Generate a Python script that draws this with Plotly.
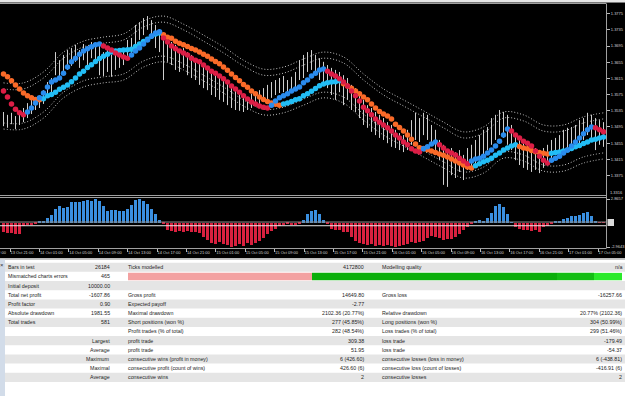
import plotly.graph_objects as go

W, H = 625, 396

# ---------------- data ----------------
fast_ma = [
    1.3584, 1.3569, 1.3552, 1.3539, 1.3530, 1.3525, 1.3532, 1.3542, 1.3554, 1.3567,
    1.3579, 1.3594, 1.3606, 1.3611, 1.3616, 1.3628, 1.3643, 1.3656, 1.3665, 1.3675,
    1.3683, 1.3688, 1.3693, 1.3698, 1.3700, 1.3695, 1.3690, 1.3685, 1.3678, 1.3673,
    1.3668, 1.3665, 1.3673, 1.3683, 1.3690, 1.3700, 1.3710, 1.3720, 1.3727, 1.3730,
    1.3715, 1.3705, 1.3695, 1.3688, 1.3683, 1.3678, 1.3673, 1.3665, 1.3660, 1.3656,
    1.3648, 1.3641, 1.3633, 1.3628, 1.3621, 1.3614, 1.3606, 1.3596, 1.3589, 1.3581,
    1.3572, 1.3564, 1.3557, 1.3552, 1.3547, 1.3544, 1.3542, 1.3549, 1.3559, 1.3567,
    1.3572, 1.3577, 1.3584, 1.3589, 1.3594, 1.3604, 1.3611, 1.3621, 1.3628, 1.3636,
    1.3638, 1.3633, 1.3626, 1.3621, 1.3614, 1.3606, 1.3596, 1.3584, 1.3572, 1.3559,
    1.3544, 1.3535, 1.3525, 1.3515, 1.3507, 1.3500, 1.3493, 1.3485, 1.3475, 1.3468,
    1.3458, 1.3451, 1.3441, 1.3436, 1.3433, 1.3441, 1.3446, 1.3453, 1.3458, 1.3451,
    1.3443, 1.3436, 1.3431, 1.3426, 1.3418, 1.3411, 1.3404, 1.3411, 1.3416, 1.3418,
    1.3423, 1.3431, 1.3438, 1.3448, 1.3460, 1.3475, 1.3490, 1.3485, 1.3475, 1.3468,
    1.3460, 1.3455, 1.3448, 1.3436, 1.3423, 1.3413, 1.3406, 1.3413, 1.3418, 1.3423,
    1.3431, 1.3438, 1.3448, 1.3458, 1.3468, 1.3478, 1.3488, 1.3495, 1.3493, 1.3488,
    1.3483,
]

slow_ma = [
    1.3626, 1.3619, 1.3609, 1.3599, 1.3589, 1.3579, 1.3572, 1.3567, 1.3563, 1.3562,
    1.3565, 1.3572, 1.3575, 1.3581, 1.3588, 1.3593, 1.3599, 1.3607, 1.3616, 1.3626,
    1.3633, 1.3642, 1.3649, 1.3657, 1.3664, 1.3670, 1.3675, 1.3680, 1.3683, 1.3684,
    1.3685, 1.3686, 1.3687, 1.3694, 1.3700, 1.3706, 1.3712, 1.3719, 1.3725, 1.3727,
    1.3723, 1.3717, 1.3714, 1.3707, 1.3702, 1.3698, 1.3694, 1.3689, 1.3685, 1.3680,
    1.3675, 1.3670, 1.3663, 1.3657, 1.3651, 1.3643, 1.3635, 1.3626, 1.3617, 1.3609,
    1.3600, 1.3593, 1.3584, 1.3577, 1.3569, 1.3563, 1.3558, 1.3554, 1.3551, 1.3549,
    1.3552, 1.3554, 1.3558, 1.3562, 1.3565, 1.3572, 1.3577, 1.3583, 1.3590, 1.3597,
    1.3601, 1.3604, 1.3606, 1.3607, 1.3609, 1.3602, 1.3596, 1.3591, 1.3584, 1.3577,
    1.3569, 1.3562, 1.3552, 1.3542, 1.3533, 1.3527, 1.3522, 1.3515, 1.3502, 1.3494,
    1.3485, 1.3475, 1.3465, 1.3453, 1.3444, 1.3442, 1.3439, 1.3436, 1.3432, 1.3428,
    1.3425, 1.3421, 1.3416, 1.3411, 1.3406, 1.3401, 1.3396, 1.3394, 1.3399, 1.3404,
    1.3409, 1.3413, 1.3418, 1.3425, 1.3431, 1.3438, 1.3443, 1.3448, 1.3451, 1.3447,
    1.3443, 1.3441, 1.3437, 1.3434, 1.3432, 1.3430, 1.3428, 1.3430, 1.3432, 1.3433,
    1.3436, 1.3438, 1.3442, 1.3446, 1.3449, 1.3454, 1.3458, 1.3463, 1.3465, 1.3468,
    1.3470,
]

bar_high = [
    1.3532, 1.3525, 1.3530, 1.3522, 1.3527, 1.3542, 1.3554, 1.3562, 1.3567, 1.3572,
    1.3586, 1.3606, 1.3616, 1.3680, 1.3660, 1.3673, 1.3685, 1.3690, 1.3698, 1.3685,
    1.3700, 1.3690, 1.3705, 1.3698, 1.3695, 1.3680, 1.3685, 1.3673, 1.3680, 1.3685,
    1.3690, 1.3710, 1.3715, 1.3747, 1.3754, 1.3764, 1.3769, 1.3759, 1.3747, 1.3735,
    1.3715, 1.3710, 1.3705, 1.3698, 1.3685, 1.3690, 1.3680, 1.3673, 1.3665, 1.3660,
    1.3648, 1.3641, 1.3631, 1.3623, 1.3616, 1.3611, 1.3604, 1.3599, 1.3591, 1.3581,
    1.3574, 1.3567, 1.3577, 1.3581, 1.3586, 1.3591, 1.3599, 1.3606, 1.3611, 1.3616,
    1.3621, 1.3611, 1.3619, 1.3631, 1.3660, 1.3673, 1.3680, 1.3685, 1.3673, 1.3665,
    1.3656, 1.3648, 1.3641, 1.3636, 1.3631, 1.3623, 1.3616, 1.3599, 1.3591, 1.3574,
    1.3562, 1.3549, 1.3542, 1.3532, 1.3525, 1.3517, 1.3507, 1.3500, 1.3488, 1.3480,
    1.3475, 1.3488, 1.3512, 1.3530, 1.3517, 1.3530, 1.3525, 1.3500, 1.3488, 1.3463,
    1.3451, 1.3438, 1.3443, 1.3433, 1.3438, 1.3426, 1.3443, 1.3451, 1.3463, 1.3475,
    1.3488, 1.3495, 1.3517, 1.3525, 1.3537, 1.3532, 1.3525, 1.3500, 1.3475, 1.3468,
    1.3463, 1.3455, 1.3451, 1.3443, 1.3438, 1.3443, 1.3451, 1.3463, 1.3468, 1.3475,
    1.3488, 1.3493, 1.3495, 1.3500, 1.3512, 1.3517, 1.3530, 1.3525, 1.3517, 1.3512,
    1.3507,
]

bar_low = [
    1.3497, 1.3493, 1.3502, 1.3490, 1.3500, 1.3507, 1.3517, 1.3527, 1.3537, 1.3542,
    1.3552, 1.3567, 1.3574, 1.3623, 1.3611, 1.3631, 1.3636, 1.3646, 1.3656, 1.3641,
    1.3660, 1.3636, 1.3665, 1.3653, 1.3623, 1.3621, 1.3631, 1.3619, 1.3636, 1.3641,
    1.3648, 1.3665, 1.3678, 1.3698, 1.3710, 1.3722, 1.3735, 1.3715, 1.3690, 1.3680,
    1.3611, 1.3656, 1.3648, 1.3636, 1.3631, 1.3641, 1.3623, 1.3616, 1.3611, 1.3599,
    1.3591, 1.3586, 1.3574, 1.3569, 1.3562, 1.3557, 1.3549, 1.3542, 1.3537, 1.3535,
    1.3532, 1.3537, 1.3542, 1.3547, 1.3552, 1.3557, 1.3562, 1.3567, 1.3574, 1.3579,
    1.3581, 1.3574, 1.3586, 1.3591, 1.3611, 1.3616, 1.3631, 1.3636, 1.3623, 1.3611,
    1.3599, 1.3591, 1.3574, 1.3562, 1.3581, 1.3549, 1.3562, 1.3537, 1.3532, 1.3517,
    1.3500, 1.3493, 1.3483, 1.3475, 1.3468, 1.3463, 1.3455, 1.3446, 1.3443, 1.3438,
    1.3433, 1.3438, 1.3451, 1.3463, 1.3458, 1.3475, 1.3463, 1.3451, 1.3438, 1.3413,
    1.3352, 1.3347, 1.3376, 1.3369, 1.3384, 1.3364, 1.3389, 1.3394, 1.3401, 1.3413,
    1.3418, 1.3438, 1.3451, 1.3463, 1.3475, 1.3468, 1.3451, 1.3438, 1.3413, 1.3401,
    1.3394, 1.3389, 1.3384, 1.3389, 1.3381, 1.3394, 1.3401, 1.3413, 1.3426, 1.3431,
    1.3438, 1.3443, 1.3451, 1.3443, 1.3451, 1.3463, 1.3475, 1.3468, 1.3438, 1.3451,
    1.3446,
]

osc_hist = [
    -1.2, -1.25, -1.3, -1.4, -1.35, -0.45, -0.35, -0.25, -0.1, 0.15,
    0.25, 0.5, 0.95, 1.6, 2.0, 1.75, 1.95, 2.45, 2.55, 2.55,
    2.65, 2.72, 2.65, 2.85, 2.6, 2.0, 1.35, 1.5, 1.58, 1.45,
    1.35, 1.7, 2.15, 2.7, 2.83, 2.65, 2.25, 1.6, 1.05, 0.3,
    -0.1, -0.9, -1.05, -1.1, -1.0, -1.1, -1.05, -1.15, -1.2, -1.3,
    -1.7, -2.1, -2.5, -2.55, -2.4, -2.6, -2.75, -2.93, -2.8, -2.65,
    -2.84, -2.5, -2.75, -2.45, -2.2, -1.9, -1.35, -1.05, -0.75, -0.45,
    -0.3, -0.2, -0.35, -0.3, -0.1, 0.3, 1.0, 1.45, 1.5, 1.0,
    0.3, -0.15, -0.8, -0.85, -0.95, -1.1, -1.2, -1.75, -2.2, -2.5,
    -2.6, -2.75, -2.65, -2.8, -2.7, -2.85, -2.75, -2.9, -2.95, -2.85,
    -2.7, -2.55, -2.4, -2.45, -2.3, -2.2, -1.9, -1.6, -1.7, -1.9,
    -2.1, -2.05, -1.95, -1.8, -1.4, -0.95, -0.5, -0.2, 0.2, 0.28,
    0.25, 0.5, 1.2, 2.0, 2.3, 1.9, 1.1, 0.05, -0.55, -0.75,
    -0.9, -0.85, -1.0, -0.95, -1.1, -0.55, -0.4, -0.1, 0.15, 0.25,
    0.4, 0.52, 0.8, 0.75, 0.9, 1.2, 1.3, 0.8, 0.2, -0.05,
    -0.05,
]

env_bars = [0, 5, 10, 15, 20, 25, 30, 35, 40, 45, 50, 55, 60, 65, 70, 75,
            80, 85, 90, 95, 100, 105, 110, 115, 120, 125, 130, 135, 140, 145, 150]
env_upper_outer = [1.3604, 1.3604, 1.3631, 1.3680, 1.3707, 1.3717, 1.3725, 1.3757, 1.3769, 1.3749,
                   1.3722, 1.3693, 1.3660, 1.3638, 1.3643, 1.3663, 1.3680, 1.3668, 1.3626, 1.3589,
                   1.3562, 1.3535, 1.3507, 1.3483, 1.3495, 1.3532, 1.3525, 1.3500, 1.3500, 1.3520, 1.3530]
env_upper_inner = [1.3589, 1.3589, 1.3616, 1.3665, 1.3693, 1.3702, 1.3710, 1.3742, 1.3754, 1.3735,
                   1.3707, 1.3678, 1.3646, 1.3623, 1.3628, 1.3648, 1.3665, 1.3653, 1.3611, 1.3574,
                   1.3547, 1.3520, 1.3493, 1.3468, 1.3480, 1.3517, 1.3510, 1.3485, 1.3485, 1.3505, 1.3515]
env_lower_inner = [1.3505, 1.3505, 1.3532, 1.3581, 1.3609, 1.3619, 1.3626, 1.3658, 1.3670, 1.3651,
                   1.3623, 1.3594, 1.3562, 1.3539, 1.3544, 1.3564, 1.3581, 1.3569, 1.3527, 1.3490,
                   1.3463, 1.3436, 1.3409, 1.3384, 1.3396, 1.3433, 1.3426, 1.3401, 1.3401, 1.3421, 1.3431]
env_lower_outer = [1.3490, 1.3490, 1.3517, 1.3567, 1.3594, 1.3604, 1.3611, 1.3643, 1.3656, 1.3636,
                   1.3609, 1.3579, 1.3547, 1.3525, 1.3530, 1.3549, 1.3567, 1.3554, 1.3512, 1.3475,
                   1.3448, 1.3421, 1.3394, 1.3369, 1.3381, 1.3418, 1.3411, 1.3386, 1.3386, 1.3406, 1.3416]

price_ticks = [1.3775, 1.3735, 1.3695, 1.3655, 1.3615, 1.3575, 1.3535, 1.3495, 1.3455, 1.3415, 1.3375]
price_min_label = "1.3316"
osc_ticks = [2.8657, -2.9643]
time_labels = ["13 Oct 17:00", "13 Oct 21:00", "14 Oct 01:00", "14 Oct 05:00", "14 Oct 09:00",
               "14 Oct 13:00", "14 Oct 17:00", "14 Oct 21:00", "15 Oct 01:00", "15 Oct 05:00",
               "15 Oct 09:00", "15 Oct 13:00", "15 Oct 17:00", "15 Oct 21:00", "16 Oct 01:00",
               "16 Oct 05:00", "16 Oct 09:00", "16 Oct 13:00", "16 Oct 17:00", "16 Oct 21:00",
               "17 Oct 01:00", "17 Oct 05:00"]

report_labels_1 = ["Bars in test", "Mismatched charts errors", "Initial deposit", "Total net profit",
                   "Profit factor", "Absolute drawdown", "Total trades", "", "", "", "", "", ""]
report_values_1 = ["26184", "465", "10000.00", "-1607.86", "0.90", "1981.55", "581", "",
                   "Largest", "Average", "Maximum", "Maximal", "Average"]
report_labels_2 = ["Ticks modelled", "", "", "Gross profit", "Expected payoff", "Maximal drawdown",
                   "Short positions (won %)", "Profit trades (% of total)", "profit trade", "profit trade",
                   "consecutive wins (profit in money)", "consecutive profit (count of wins)", "consecutive wins"]
report_values_2 = ["4172800", "", "", "14649.80", "-2.77", "2102.36 (20.77%)", "277 (45.85%)",
                   "282 (48.54%)", "309.38", "51.95", "6 (426.60)", "426.60 (6)", "2"]
report_labels_3 = ["Modelling quality", "", "", "Gross loss", "", "Relative drawdown",
                   "Long positions (won %)", "Loss trades (% of total)", "loss trade", "loss trade",
                   "consecutive losses (loss in money)", "consecutive loss (count of losses)", "consecutive losses"]
report_values_3 = ["n/a", "", "", "-16257.66", "", "20.77% (2102.36)", "304 (50.99%)", "299 (51.46%)",
                   "-179.49", "-54.37", "6 (-438.81)", "-416.91 (6)", "2"]

# ---------------- styling / layout geometry ----------------
FAST_UP, FAST_DN = "#2A8CEE", "#DC1E46"
SLOW_UP, SLOW_DN = "#22BDF5", "#FA6A28"
HIST_UP, HIST_DN = "#3A8FE0", "#D8213F"
AXIS_TXT = "#D4D4D4"
FRAME = "#A0A0A0"
TABLE_FONT = "Liberation Sans"

N = len(fast_ma)
bars = list(range(N))
PLOT_R = 606  # right edge of chart area in px


def px_x(x):
    return x / W


def px_y(y):
    return 1 - y / H


def px_to_bar(px):
    return (px - 3.5) / 4.0


X_RANGE = [px_to_bar(0), px_to_bar(PLOT_R)]
PRICE_RANGE = [1.33270, 1.38013]   # window extent (px 195 .. px 3)
OSC_RANGE = [-3.086, 3.230]        # window extent (px 248 .. px 196)


def trend_colors(vals, up, dn):
    out = []
    for i in range(len(vals)):
        rising = vals[1] > vals[0] if i == 0 else vals[i] > vals[i - 1]
        out.append(up if rising else dn)
    return out


fig = go.Figure()

# price bars (high-low lines)
bx, by = [], []
for i, (h, l) in enumerate(zip(bar_high, bar_low)):
    bx += [i, i, None]
    by += [l, h, None]
fig.add_trace(go.Scatter(x=bx, y=by, mode="lines", line=dict(color="#CFCFCF", width=1),
                         xaxis="x", yaxis="y", hoverinfo="skip"))

# envelope dotted lines
for env in (env_upper_outer, env_upper_inner, env_lower_inner, env_lower_outer):
    fig.add_trace(go.Scatter(x=env_bars, y=env, mode="lines",
                             line=dict(color="#C4C4C4", width=1, dash="1px,2px", shape="spline", smoothing=1.0),
                             xaxis="x", yaxis="y", hoverinfo="skip"))

# slow and fast MA dots
fig.add_trace(go.Scatter(x=bars, y=slow_ma, mode="markers",
                         marker=dict(size=5.5, color=trend_colors(slow_ma, SLOW_UP, SLOW_DN), line=dict(width=0)),
                         xaxis="x", yaxis="y", hoverinfo="skip"))
fig.add_trace(go.Scatter(x=bars, y=fast_ma, mode="markers",
                         marker=dict(size=5.5, color=trend_colors(fast_ma, FAST_UP, FAST_DN), line=dict(width=0)),
                         xaxis="x", yaxis="y", hoverinfo="skip"))

# oscillator histogram
fig.add_trace(go.Bar(x=bars, y=osc_hist, width=0.6,
                     marker=dict(color=[HIST_UP if v >= 0 else HIST_DN for v in osc_hist], line=dict(width=0)),
                     xaxis="x2", yaxis="y2", hoverinfo="skip"))

# time axis ticks
label_step = 29.4
tick_px = [10 + label_step * (k - 1) for k in range(len(time_labels))]
vis = [(px_to_bar(p), t) for p, t in zip(tick_px, time_labels) if 0 <= p <= PLOT_R]

shapes = []


def rect(x0, y0, x1, y1, fill, layer="below", line_color=None, lw=0):
    shapes.append(dict(type="rect", xref="paper", yref="paper",
                       x0=px_x(x0), x1=px_x(x1), y0=px_y(y1), y1=px_y(y0),
                       fillcolor=fill, layer=layer,
                       line=dict(width=lw, color=line_color or "rgba(0,0,0,0)")))


def hline(x0, x1, y, color, lw=1, layer="above"):
    shapes.append(dict(type="line", xref="paper", yref="paper", x0=px_x(x0), x1=px_x(x1),
                       y0=px_y(y), y1=px_y(y), line=dict(color=color, width=lw), layer=layer))


def vline(x, y0, y1, color, lw=1, layer="above"):
    shapes.append(dict(type="line", xref="paper", yref="paper", x0=px_x(x), x1=px_x(x),
                       y0=px_y(y0), y1=px_y(y1), line=dict(color=color, width=lw), layer=layer))


# black terminal area + top strip
rect(0, 0, 625, 2.5, "#E6E6E6")
rect(0, 2.5, 625, 258.5, "#000000")
# frames
hline(0, PLOT_R, 3.5, FRAME)
hline(0, PLOT_R, 195.5, FRAME)
hline(0, PLOT_R, 197.5, FRAME)
hline(0, PLOT_R, 248.5, FRAME)
vline(PLOT_R + 0.5, 3.5, 248.5, FRAME)
# oscillator level lines
shapes.append(dict(type="line", xref="paper", yref="y2", x0=0, x1=px_x(PLOT_R), y0=0.07, y1=0.07,
                   line=dict(color="#8E8E8E", width=1), layer="above"))
shapes.append(dict(type="line", xref="paper", yref="y2", x0=0, x1=px_x(PLOT_R), y0=-0.38, y1=-0.38,
                   line=dict(color="#E6E6E6", width=1), layer="above"))
rect(607.5, 219, 614, 226, "#DADADA", layer="above")

# report table
rect(0, 258.5, 625, 396, "#FFFFFF")
hline(0, 625, 259.5, "#C8C8C8", layer="below")
ROW_TOP, ROW_H = 262.7, 9.17
for k in range(13):
    if k % 2 == 0:
        rect(5, ROW_TOP + ROW_H * k, 625, ROW_TOP + ROW_H * (k + 1), "#E5E5E5")
# modelling quality bar
mq_y0, mq_y1 = ROW_TOP + ROW_H + 1.0, ROW_TOP + 2 * ROW_H - 0.8
rect(128, mq_y0, 312, mq_y1, "#F3A1A1")
rect(312, mq_y0, 557, mq_y1, "#0BAF0B")
rect(557, mq_y0, 594, mq_y1, "#14BE14")
rect(594, mq_y0, 622, mq_y1, "#2AEA2A")
rect(0, 259.5, 5, 396, "#D2DCE9")

annotations = []


def txt(px, py, s, anchor, size=5.3, color="#1E1E1E", family=TABLE_FONT):
    if not s:
        return
    annotations.append(dict(x=px_x(px), y=px_y(py), xref="paper", yref="paper", text=s,
                            showarrow=False, xanchor=anchor, yanchor="middle",
                            font=dict(family=family, size=size, color=color),
                            borderpad=0, borderwidth=0))


for k in range(13):
    cy = ROW_TOP + ROW_H * (k + 0.5)
    txt(8, cy, report_labels_1[k], "left")
    txt(109.5, cy, report_values_1[k], "right")
    txt(128, cy, report_labels_2[k], "left")
    txt(364, cy, report_values_2[k], "right")
    txt(382, cy, report_labels_3[k], "left")
    txt(622, cy, report_values_3[k], "right")

txt(2.3, 265, "\u00d7", "center", size=6, color="#333333")
# window-min label of the price scale and the clipped first time label (cut at the left edge as in the terminal)
txt(610, 192.5, price_min_label, "left", size=4, color=AXIS_TXT)
txt(tick_px[0] + 2, 252.5, time_labels[0], "left", size=4, color=AXIS_TXT)

axis_font = dict(family="Liberation Sans", size=4, color=AXIS_TXT)

fig.update_layout(
    width=W, height=H, margin=dict(l=0, r=0, t=0, b=0),
    paper_bgcolor="#FFFFFF", plot_bgcolor="#000000", showlegend=False,
    bargap=0, shapes=shapes, annotations=annotations,
    xaxis=dict(domain=[0, px_x(PLOT_R)], range=X_RANGE, visible=False, fixedrange=True),
    yaxis=dict(domain=[px_y(195), px_y(3)], range=PRICE_RANGE, side="right",
               tickvals=price_ticks, ticktext=[f"{v:.4f}" for v in price_ticks],
               ticks="outside", ticklen=3, tickwidth=1, tickcolor="#BBBBBB",
               tickfont=axis_font, showgrid=False, zeroline=False, showline=False, automargin=False),
    xaxis2=dict(domain=[0, px_x(PLOT_R)], range=X_RANGE, anchor="y2",
                tickvals=[v[0] for v in vis], ticktext=[v[1] for v in vis], tickangle=0,
                ticklabelposition="outside right", ticks="outside", ticklen=3, tickwidth=1,
                tickcolor="#BBBBBB", tickfont=axis_font, showgrid=False, zeroline=False,
                showline=False, automargin=False),
    yaxis2=dict(domain=[px_y(248), px_y(196)], range=OSC_RANGE, anchor="x2", side="right",
                tickvals=osc_ticks, ticktext=[f"{v:.4f}" for v in osc_ticks],
                ticks="outside", ticklen=3, tickwidth=1, tickcolor="#BBBBBB",
                tickfont=axis_font, showgrid=False, zeroline=False, showline=False, automargin=False),
)

fig.write_html("out.html")
